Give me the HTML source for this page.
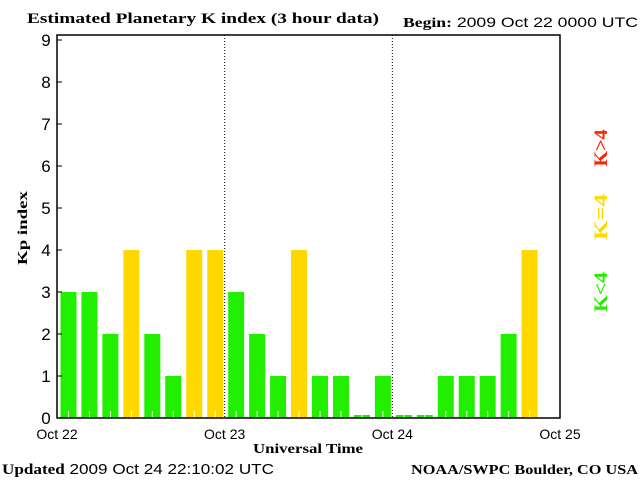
<!DOCTYPE html>
<html><head><meta charset="utf-8"><style>
body{margin:0;background:#fff}
svg{display:block;font-family:"Liberation Sans",sans-serif}
.s{font-family:"Liberation Serif",serif;font-weight:bold}
</style></head><body>
<svg id="c" width="640" height="480" viewBox="0 0 640 480">
<text class="s" x="27" y="23" font-size="15" textLength="352" lengthAdjust="spacingAndGlyphs">Estimated Planetary K index (3 hour data)</text>
<text x="403" y="27" font-size="14" textLength="235" lengthAdjust="spacingAndGlyphs"><tspan class="s">Begin:</tspan>  2009 Oct 22 0000 UTC</text>
<text class="s" transform="translate(27,228) rotate(-90)" text-anchor="middle" font-size="14" textLength="74" lengthAdjust="spacingAndGlyphs">Kp index</text>
<text class="s" x="308" y="453" text-anchor="middle" font-size="14" textLength="110" lengthAdjust="spacingAndGlyphs">Universal Time</text>
<text x="2" y="474" font-size="15" textLength="272" lengthAdjust="spacingAndGlyphs"><tspan class="s">Updated</tspan> 2009 Oct 24 22:10:02 UTC</text>
<text class="s" x="638" y="474" text-anchor="end" font-size="14" textLength="227" lengthAdjust="spacingAndGlyphs">NOAA/SWPC Boulder, CO USA</text>
<text class="s" transform="translate(607,148) rotate(-90)" text-anchor="middle" font-size="19" textLength="37" lengthAdjust="spacingAndGlyphs" fill="#ff2200">K&gt;4</text>
<text class="s" transform="translate(607,217) rotate(-90)" text-anchor="middle" font-size="19" textLength="46" lengthAdjust="spacingAndGlyphs" fill="#ffd800">K=4</text>
<text class="s" transform="translate(607,292) rotate(-90)" text-anchor="middle" font-size="19" textLength="40" lengthAdjust="spacingAndGlyphs" fill="#22ee00">K&lt;4</text>
<g id="plot"></g>
</svg>
<script>
const kpValues=[3,3,2,4,2,1,4,4, 3,2,1,4,1,1,0,1, 0,0,1,1,1,2,4];
const dayLabels=["Oct 22","Oct 23","Oct 24","Oct 25"];
const yTicks=[0,1,2,3,4,5,6,7,8,9];
const NS="http://www.w3.org/2000/svg";
const L=57,R=560,T=35,B=418;
const dayW=(R-L)/3, slotW=dayW/8;
const x=i=>L+i*slotW;
const y=v=>B-42*v;
const g=document.getElementById('plot');
function mk(t,a){const e=document.createElementNS(NS,t);for(const k in a)e.setAttribute(k,a[k]);g.appendChild(e);return e;}
kpValues.forEach((v,i)=>{
  const h=Math.max(3,B-y(v));
  const col=v>4?"#ff2200":(v===4?"#ffd800":"#22ee00");
  const r=mk('rect',{x:x(i)+3.5,y:B-h,width:16,height:h,fill:col});
  
  
  const t=mk('line',{x1:x(i)+11.5,y1:B-7,x2:x(i)+11.5,y2:B,stroke:"#fff"});
  
  
});
[1,2].forEach(d=>{
  const l=mk('line',{x1:L+d*dayW,y1:T,x2:L+d*dayW,y2:B,stroke:"#000","stroke-dasharray":"1,2"});
  
  
});
yTicks.forEach(v=>{
  const tk=mk('line',{x1:L,y1:y(v),x2:L+5,y2:y(v),stroke:"#000"});
  
  
  const tx=mk('text',{x:46,y:y(v)+6,"text-anchor":"middle","font-size":"17"});
  tx.textContent=v;
  
  
});
dayLabels.forEach((d,i)=>{
  const tx=mk('text',{x:L+i*dayW,y:439,"text-anchor":"middle","font-size":"14"});
  tx.textContent=d;
  
  
});
const fr=mk('rect',{x:L,y:T,width:R-L,height:B-T,fill:"none",stroke:"#000","stroke-width":"1.5"});


</script>
</body></html>
